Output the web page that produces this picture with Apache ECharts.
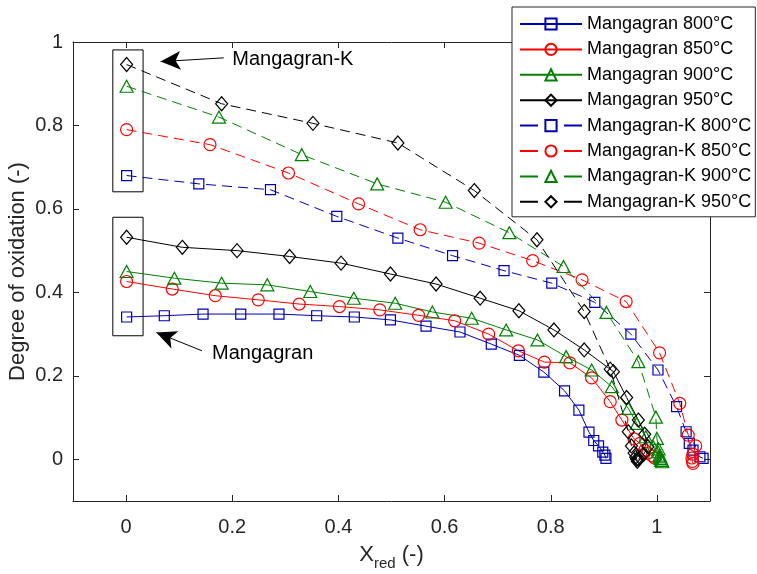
<!DOCTYPE html>
<html><head><meta charset="utf-8">
<script src="https://cdn.jsdelivr.net/npm/echarts@6/dist/echarts.min.js"></script>
<style>html,body{margin:0;padding:0;background:#fff}#c{width:757px;height:574px}</style>
</head><body><div id="c"></div><script>
// ---------- data ----------
const seriesNames = ['Mangagran 800°C','Mangagran 850°C','Mangagran 900°C','Mangagran 950°C',
  'Mangagran-K 800°C','Mangagran-K 850°C','Mangagran-K 900°C','Mangagran-K 950°C'];

const m800x = [0.001,0.072,0.145,0.216,0.288,0.359,0.430,0.498,0.565,0.629,0.688,0.741,0.787,0.826,0.853,0.872,0.881,0.890,0.898,0.902,0.904];
const m800y = [0.341,0.344,0.348,0.348,0.348,0.344,0.341,0.334,0.319,0.305,0.276,0.249,0.209,0.164,0.118,0.065,0.045,0.032,0.017,0.010,0.002];

const m850x = [0.001,0.087,0.168,0.249,0.326,0.402,0.478,0.551,0.619,0.683,0.739,0.788,0.836,0.877,0.912,0.934,0.957,0.968,0.977,0.983,0.991,0.996];
const m850y = [0.426,0.408,0.392,0.382,0.372,0.366,0.358,0.345,0.332,0.300,0.260,0.233,0.231,0.195,0.138,0.094,0.049,0.038,0.022,0.015,0.008,0.003];

const m900x = [0.001,0.091,0.180,0.266,0.347,0.429,0.507,0.577,0.651,0.716,0.775,0.829,0.877,0.915,0.946,0.962,0.979,0.993,1.002,1.006,1.009];
const m900y = [0.450,0.434,0.422,0.418,0.402,0.386,0.374,0.353,0.338,0.310,0.286,0.246,0.214,0.174,0.122,0.086,0.054,0.030,0.018,0.006,-0.002];

const m950x = [0.001,0.106,0.209,0.308,0.405,0.498,0.584,0.667,0.740,0.806,0.863,0.918,0.943,0.965,0.977,0.983,0.975,0.968,0.965];
const m950y = [0.532,0.508,0.500,0.486,0.470,0.444,0.420,0.386,0.356,0.310,0.262,0.210,0.148,0.094,0.060,0.030,0.012,0.004,0.000];

const k800x = [0.001,0.137,0.272,0.397,0.512,0.615,0.712,0.802,0.883,0.951,1.002,1.037,1.055,1.061,1.068,1.081,1.087];
const k800y = [0.680,0.660,0.646,0.582,0.530,0.488,0.452,0.422,0.376,0.300,0.214,0.126,0.066,0.038,0.022,0.006,0.002];

const k850x = [0.001,0.158,0.306,0.438,0.554,0.665,0.766,0.859,0.942,1.005,1.043,1.059,1.073,1.068,1.066,1.067,1.068];
const k850y = [0.790,0.754,0.686,0.612,0.550,0.518,0.476,0.430,0.378,0.255,0.134,0.058,0.032,0.012,0.003,-0.005,-0.010];

const k900x = [0.001,0.175,0.331,0.473,0.602,0.722,0.824,0.905,0.965,0.998,1.000,1.003,1.005,1.007,1.008,1.010];
const k900y = [0.894,0.820,0.730,0.660,0.616,0.543,0.462,0.352,0.234,0.101,0.050,0.025,0.010,0.002,-0.003,-0.006];

const k950x = [0.001,0.180,0.352,0.512,0.656,0.774,0.863,0.912,0.946,0.952,0.957,0.960,0.962,0.963];
const k950y = [0.946,0.852,0.805,0.758,0.644,0.526,0.354,0.216,0.066,0.032,0.015,0.005,0.000,-0.005];

const xTickValues = [0,0.2,0.4,0.6,0.8,1];
const xTickLabels = ['0','0.2','0.4','0.6','0.8','1'];
const yTickValues = [0,0.2,0.4,0.6,0.8,1];
const yTickLabels = ['0','0.2','0.4','0.6','0.8','1'];

const xTitle = '{x|X}{s|red}{x| (-)}';
const yTitle = 'Degree of oxidation (-)';

const annoTexts = ['Mangagran-K','Mangagran'];
const annoTextPos = [[0.200,0.957],[0.162,0.254]];
const boxCorners = [[[-0.025,0.981],[0.032,0.641]],[[-0.025,0.580],[0.032,0.296]]];
const arrowEnds = [[[0.184,0.962],[0.065,0.953]],[[0.143,0.260],[0.057,0.304]]];

// ---------- chart ----------
const FONT = '"Liberation Sans", Arial, Helvetica, sans-serif';
const AX = '#262626';
const C = {blue:'#0000B3', red:'#FF0000', green:'#008000', black:'#000000'};
const DASH = [10,6];
const LEGEND_DASH = [18,26];

function zip(xs, ys){ return xs.map((x,i)=>[x, ys[i]]); }
function lbl(vals, labs){ return v => { const i = vals.findIndex(t => Math.abs(t - v) < 1e-9); return i >= 0 ? labs[i] : ''; }; }

function mk(name, xs, ys, color, symbol, size, dashed){
  return {
    name, type:'line', data: zip(xs, ys),
    symbol, symbolSize: size, showSymbol:true,
    lineStyle:{color, width:1, type: dashed ? DASH : 'solid'},
    itemStyle:{color:'rgba(0,0,0,0)', borderColor:color, borderWidth:1.2},
    emphasis:{disabled:true}, animation:false, z:3
  };
}

const series = [
  mk(seriesNames[0], m800x, m800y, C.blue, 'rect', 10, false),
  mk(seriesNames[1], m850x, m850y, C.red, 'circle', 12, false),
  mk(seriesNames[2], m900x, m900y, C.green, 'triangle', [13,12], false),
  mk(seriesNames[3], m950x, m950y, C.black, 'diamond', [12,14], false),
  mk(seriesNames[4], k800x, k800y, C.blue, 'rect', 10, true),
  mk(seriesNames[5], k850x, k850y, C.red, 'circle', 12, true),
  mk(seriesNames[6], k900x, k900y, C.green, 'triangle', [13,12], true),
  mk(seriesNames[7], k950x, k950y, C.black, 'diamond', [12,14], true)
];

series[0].markArea = {
  silent:true,
  itemStyle:{color:'rgba(0,0,0,0)', borderColor:'#000', borderWidth:1},
  label:{show:false},
  data: boxCorners.map(b => [{coord:b[0]},{coord:b[1]}])
};
series[0].markLine = {
  silent:true, animation:false,
  symbol:['none','arrow'],
  lineStyle:{color:'#000', width:1, type:'solid'},
  label:{show:false},
  data: arrowEnds.map(a => [{coord:a[0], symbol:'none'},{coord:a[1], symbol:'arrow', symbolSize:[14,20]}])
};
series[0].markPoint = {
  silent:true, animation:false,
  symbol:'circle', symbolSize:0,
  itemStyle:{color:'rgba(0,0,0,0)'},
  label:{show:true, position:'right', distance:0, formatter:'{b}', fontSize:20, fontFamily:FONT, color:'#000'},
  data: annoTexts.map((t,i)=>({name:t, coord:annoTextPos[i]}))
};

const axisCommon = {
  axisLine:{show:true, onZero:false, lineStyle:{color:AX, width:1}},
  splitLine:{show:false}
};

const legendData = seriesNames.map((n, i) => i < 4 ? {name:n} : {name:n, lineStyle:{type:LEGEND_DASH}});

const option = {
  backgroundColor:'#fff',
  animation:false,
  grid:{left:73, right:47, top:42, bottom:73, containLabel:false, outerBoundsMode:'none'},
  legend:{
    orient:'vertical', left:512, top:7, padding:[8,4,6,7],
    itemGap:7.4, itemWidth:62, itemHeight:14,
    backgroundColor:'#fff', borderColor:AX, borderWidth:1,
    textStyle:{fontSize:18, fontFamily:FONT, color:'#000', lineHeight:18},
    data: legendData, selectedMode:false, z:10
  },
  xAxis:[
    Object.assign({}, axisCommon, {
      type:'value', min:-0.1, max:1.1, position:'bottom',
      axisTick:{show:true, inside:true, length:6, customValues:xTickValues, lineStyle:{color:AX}},
      axisLabel:{customValues:xTickValues, formatter:lbl(xTickValues,xTickLabels), fontSize:20, fontFamily:FONT, color:AX, margin:16},
      name:xTitle, nameLocation:'middle', nameGap:37,
      nameTextStyle:{color:AX, fontFamily:FONT, fontSize:22, rich:{
        x:{fontSize:22, fontFamily:FONT, color:AX},
        s:{fontSize:15, fontFamily:FONT, color:AX, padding:[18,0,0,0]}
      }}
    }),
    Object.assign({}, axisCommon, {
      type:'value', min:-0.1, max:1.1, position:'top',
      axisTick:{show:true, inside:true, length:6, customValues:xTickValues, lineStyle:{color:AX}},
      axisLabel:{show:false}
    })
  ],
  yAxis:[
    Object.assign({}, axisCommon, {
      type:'value', min:-0.1, max:1, position:'left',
      axisTick:{show:true, inside:true, length:6, customValues:yTickValues, lineStyle:{color:AX}},
      axisLabel:{customValues:yTickValues, formatter:lbl(yTickValues,yTickLabels), fontSize:20, fontFamily:FONT, color:AX, margin:10},
      name:yTitle, nameLocation:'middle', nameGap:44, nameRotate:90, nameMoveOverlap:false,
      nameTextStyle:{color:AX, fontFamily:FONT, fontSize:22}
    }),
    Object.assign({}, axisCommon, {
      type:'value', min:-0.1, max:1, position:'right',
      axisTick:{show:true, inside:true, length:6, customValues:yTickValues, lineStyle:{color:AX}},
      axisLabel:{show:false}
    })
  ],
  series
};

const chart = echarts.init(document.getElementById('c'), null, {renderer:'canvas'});
chart.setOption(option);
</script></body></html>
